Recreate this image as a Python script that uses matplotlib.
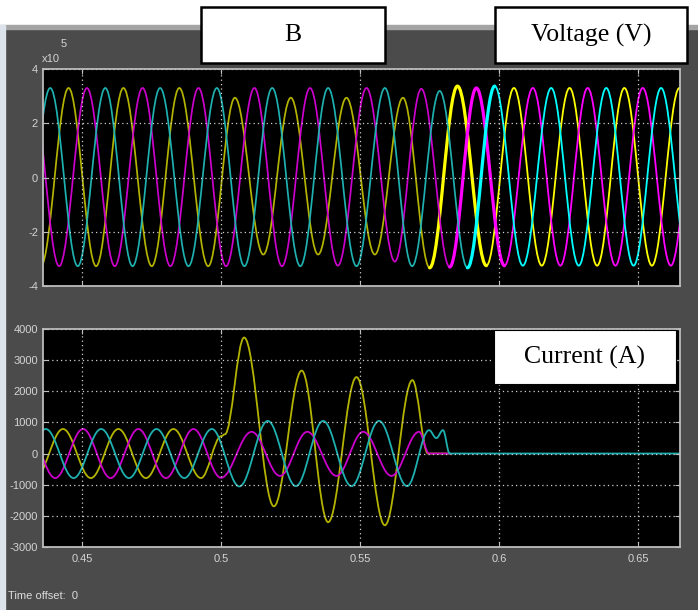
import numpy as np
import matplotlib.pyplot as plt
from matplotlib.path import Path
from matplotlib.patches import PathPatch, Rectangle
from matplotlib.ticker import FuncFormatter

plt.rcParams['font.family'] = ['Liberation Sans Narrow', 'Liberation Sans', 'DejaVu Sans']
plt.rcParams['axes.unicode_minus'] = False

# scope window (s)
t_window = (0.436, 0.665)
x_ticks = [0.45, 0.5, 0.55, 0.6, 0.65]
v_ticks = [-4, -2, 0, 2, 4]                     # x 1e5 V
i_ticks = [-3000, -2000, -1000, 0, 1000, 2000, 3000, 4000]

# voltage extrema per phase: time (s), value (x 1e5 V)
va_t = [0.4352, 0.4452, 0.4551, 0.4649, 0.4751, 0.4850, 0.4954, 0.5050, 0.5152, 0.5251,
        0.5349, 0.5451, 0.5553, 0.5654, 0.5750, 0.5850, 0.5954, 0.6053, 0.6153, 0.6253,
        0.6352, 0.6450, 0.6549, 0.6648, 0.6748]
va_v = [-3.27, 3.30, -3.27, 3.30, -3.27, 3.30, -3.27, 2.94, -2.84, 2.94,
        -2.84, 2.94, -2.84, 2.94, -3.33, 3.37, -3.25, 3.30, -3.25, 3.30,
        -3.25, 3.30, -3.25, 3.30, -3.25]
vb_t = [0.4320, 0.4418, 0.4518, 0.4618, 0.4718, 0.4818, 0.4919, 0.5018, 0.5120, 0.5219,
        0.5320, 0.5420, 0.5523, 0.5625, 0.5720, 0.5822, 0.5918, 0.6019, 0.6121, 0.6220,
        0.6318, 0.6418, 0.6516, 0.6617, 0.6716]
vb_v = [3.30, -3.27, 3.30, -3.27, 3.30, -3.27, 3.30, -3.27, 3.30, -3.27,
        3.30, -3.25, 3.30, -3.10, 3.27, -3.30, 3.30, -3.25, 3.30, -3.25,
        3.30, -3.25, 3.30, -3.25, 3.30]
vc_t = [0.4286, 0.4386, 0.4485, 0.4584, 0.4682, 0.4781, 0.4883, 0.4985, 0.5084, 0.5184,
        0.5285, 0.5385, 0.5487, 0.5589, 0.5687, 0.5786, 0.5886, 0.5984, 0.6085, 0.6187,
        0.6286, 0.6385, 0.6483, 0.6582, 0.6682]
vc_v = [-3.27, 3.30, -3.27, 3.30, -3.27, 3.30, -3.27, 3.30, -3.27, 3.30,
        -3.27, 3.30, -3.27, 3.30, -3.27, 3.19, -3.33, 3.37, -3.25, 3.30,
        -3.25, 3.30, -3.25, 3.30, -3.25]

# current extrema / break points per phase: time (s), value (A)
ia_t = [0.4332, 0.4432, 0.4532, 0.4631, 0.4730, 0.4829, 0.4928, 0.5001, 0.5014, 0.5083,
        0.5190, 0.5290, 0.5385, 0.5487, 0.5589, 0.5688, 0.5744, 0.5822]
ia_v = [-790, 790, -790, 790, -790, 790, -790, 560, 620, 3735,
        -1700, 2670, -2210, 2460, -2310, 2363, 0, 0]
ib_t = [0.4304, 0.4404, 0.4504, 0.4603, 0.4703, 0.4802, 0.4901, 0.5000, 0.5110, 0.5212,
        0.5310, 0.5415, 0.5511, 0.5613, 0.5712, 0.5748, 0.5822]
ib_v = [790, -790, 790, -790, 790, -790, 790, -780, 700, -720,
        700, -720, 700, -720, 700, 0, 0]
ic_t = [0.4270, 0.4370, 0.4470, 0.4569, 0.4669, 0.4768, 0.4868, 0.4967, 0.5066, 0.5168,
        0.5269, 0.5367, 0.5469, 0.5568, 0.5669, 0.5748, 0.5774, 0.5798, 0.5822, 0.6700]
ic_v = [-790, 790, -790, 790, -790, 790, -790, 790, -1060, 1050,
        -1050, 1050, -1050, 1050, -1050, 753, 496, 753, 0, 0]

# scope colours
dim = {'a': '#b4b400', 'b': '#cc00cc', 'c': '#1fb0b0'}
bright = {'a': '#ffff00', 'b': '#ff00ff', 'c': '#00ffff'}
# voltage trace: where the bright/thick part starts and ends (knot times)
bright_span = {'a': (0.5750, 0.5954), 'b': (0.5822, 0.6019), 'c': (0.5886, 0.5984)}

K = 1 - 2 / np.pi  # handle length of a half-cosine cubic bezier


def wave_path(ts, vs):
    verts = [(ts[0], vs[0])]
    codes = [Path.MOVETO]
    for t0, v0, t1, v1 in zip(ts[:-1], vs[:-1], ts[1:], vs[1:]):
        dt = t1 - t0
        verts += [(t0 + K * dt, v0), (t1 - K * dt, v1), (t1, v1)]
        codes += [Path.CURVE4] * 3
    return Path(verts, codes)


def draw_wave(ax, ts, vs, color, lw, t_from=None, t_to=None):
    ts = np.asarray(ts)
    i0 = 0 if t_from is None else int(np.argmin(np.abs(ts - t_from)))
    i1 = len(ts) - 1 if t_to is None else int(np.argmin(np.abs(ts - t_to)))
    path = wave_path(list(ts[i0:i1 + 1]), list(vs[i0:i1 + 1]))
    ax.add_patch(PathPatch(path, fill=False, edgecolor=color, lw=lw,
                           joinstyle='round', capstyle='round'))


def style_axes(ax):
    ax.set_facecolor('black')
    for s in ax.spines.values():
        s.set_color('#bcbcbc')
        s.set_linewidth(1.3)
    ax.tick_params(direction='in', length=3.5, color='#bcbcbc', labelcolor='#d4d4d4',
                   labelsize=8, top=True, right=True, pad=3.5)
    ax.tick_params(axis='x', pad=5.5)
    ax.grid(True, color='#d0d0d0', linestyle=(0, (1, 2.5)), lw=0.9)
    ax.set_xlim(*t_window)
    ax.set_xticks(x_ticks)
    ax.xaxis.set_major_formatter(FuncFormatter(lambda v, p: f'{v:g}'))


W, H = 698, 610
fig = plt.figure(figsize=(W / 100, H / 100), dpi=100, facecolor='#4b4b4b')

# window chrome
fig.add_artist(Rectangle((0, 1 - 25 / H), 1, 25 / H, transform=fig.transFigure,
                         color='white', zorder=0))
fig.add_artist(Rectangle((0, 1 - 29 / H), 1, 4 / H, transform=fig.transFigure,
                         color='#a4a4a4', zorder=0))
fig.add_artist(Rectangle((0, 0), 5 / W, 1 - 25 / H, transform=fig.transFigure,
                         color='#dde3ea', zorder=0))

ax_v = fig.add_axes([43 / W, 1 - 286 / H, 637 / W, 217 / H])
ax_i = fig.add_axes([43 / W, 1 - 546.7 / H, 637 / W, 217.4 / H])
for ax in (ax_v, ax_i):
    style_axes(ax)

# voltage
for key, ts, vs in (('a', va_t, va_v), ('b', vb_t, vb_v), ('c', vc_t, vc_v)):
    t_on, t_off = bright_span[key]
    draw_wave(ax_v, ts, vs, dim[key], 1.25, None, t_on)
    draw_wave(ax_v, ts, vs, bright[key], 2.3, t_on, t_off)
    draw_wave(ax_v, ts, vs, bright[key], 1.3, t_off, None)
ax_v.set_ylim(-4, 4)
ax_v.set_yticks(v_ticks)
ax_v.tick_params(labelbottom=False)
fig.text(42 / W, 1 - 62 / H, 'x10', color='#d4d4d4', fontsize=8, va='baseline')
fig.text(61 / W, 1 - 47 / H, '5', color='#d4d4d4', fontsize=8, va='baseline')

# current
for key, ts, vs in (('a', ia_t, ia_v), ('b', ib_t, ib_v), ('c', ic_t, ic_v)):
    draw_wave(ax_i, ts, vs, dim[key], 1.3)
ax_i.set_ylim(-3000, 4000)
ax_i.set_yticks(i_ticks)

fig.text(8 / W, 1 - 599 / H, 'Time offset:  0', color='#dcdcdc', fontsize=8,
         va='baseline')

# annotation boxes
boxes = [('B', 201, 7, 385, 63, 1.8), ('Voltage (V)', 495, 7, 687, 63, 1.8),
         ('Current (A)', 494, 330, 676, 384, 0.8)]
for label, x0, y0, x1, y1, blw in boxes:
    fig.add_artist(Rectangle((x0 / W, 1 - y1 / H), (x1 - x0) / W, (y1 - y0) / H,
                             transform=fig.transFigure, facecolor='white',
                             edgecolor='black', lw=blw, zorder=5))
    fig.text((x0 + x1) / 2 / W, 1 - (y0 + y1) / 2 / H, label, ha='center', va='center',
             family=['Liberation Serif', 'DejaVu Serif'], fontsize=18.5, color='black',
             zorder=6)

fig.savefig('out.png', dpi=100, facecolor=fig.get_facecolor())
